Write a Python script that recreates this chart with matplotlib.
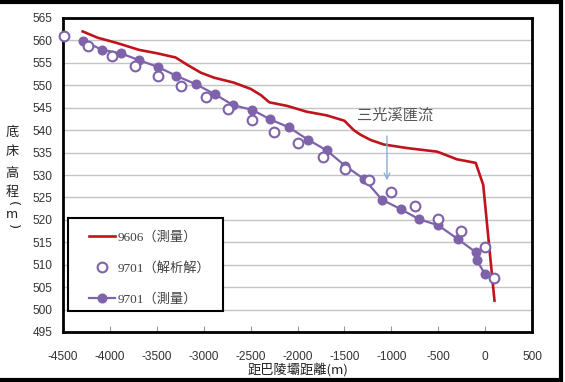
import matplotlib
matplotlib.use("Agg")
import matplotlib.pyplot as plt
from matplotlib.patches import Rectangle
from matplotlib.lines import Line2D

# ---- data ----
red_x = [-4290, -4130, -3920, -3690, -3490, -3300, -3170, -3030, -2890, -2680, -2500, -2390,
         -2300, -2110, -1900, -1690, -1500, -1400, -1330, -1220, -1080, -830, -510, -300,
         -100, -20, 100]
red_y = [562.0, 560.6, 559.4, 557.9, 557.1, 556.2, 554.5, 552.8, 551.7, 550.6, 549.2, 547.8,
         546.2, 545.4, 544.1, 543.3, 542.1, 540.0, 539.0, 537.8, 536.8, 536.0, 535.2, 533.5,
         532.7, 527.8, 502.0]

meas_x = [-4290, -4080, -3880, -3690, -3490, -3290, -3080, -2880, -2690, -2480, -2290, -2090,
          -1890, -1690, -1490, -1290, -1100, -900, -700, -500, -290, -100, -90, 0, 100]
meas_y = [559.9, 557.9, 557.1, 555.6, 554.1, 552.1, 550.2, 548.0, 545.6, 544.5, 542.4, 540.6,
          537.9, 535.5, 532.0, 529.1, 524.5, 522.4, 520.1, 518.8, 515.7, 512.8, 511.0, 507.9, 507.0]

anal_x = [-4490, -4230, -3980, -3730, -3490, -3240, -2980, -2740, -2480, -2250, -2000, -1730,
          -1490, -1240, -1000, -745, -500, -255, 0, 100]
anal_y = [561.0, 558.8, 556.6, 554.4, 552.1, 549.8, 547.4, 544.8, 542.2, 539.6, 537.2, 534.0,
          531.4, 528.8, 526.2, 523.0, 520.3, 517.5, 514.0, 507.0]

series_labels = ["9606（測量）", "9701（解析解）", "9701（測量）"]
x_ticks = list(range(-4500, 501, 500))
y_ticks = list(range(495, 566, 5))
annot_text = "三光溪匯流"
annot_x = -1046
annot_y_from, annot_y_to = 539.3, 528.2
xlabel = "距巴陵壩距離(m)"
ylabel_chars = ["底", "床", "高", "程"]
ylabel_unit = ["(", "m", ")"]

W, H = 565, 382
fig = plt.figure(figsize=(W / 100, H / 100), dpi=100)
cjk = ["Noto Sans CJK TC", "DejaVu Sans"]
serif_cjk = ["Liberation Serif", "Noto Sans CJK TC", "DejaVu Sans"]

L, R, T, B = 63, 532, 18, 332
ax = fig.add_axes([L / W, 1 - B / H, (R - L) / W, (B - T) / H])

red = "#c0141c"
purple = "#7e63aa"

ax.plot(red_x, red_y, color=red, lw=1.9, zorder=3)
ax.plot(meas_x, meas_y, color=purple, lw=1.6, marker="o", ms=6.2,
        mfc=purple, mec=purple, zorder=4)
ax.plot(anal_x, anal_y, ls="none", marker="o", ms=7, mfc="white", mec=purple,
        mew=1.5, zorder=5, clip_on=False)

ax.set_xlim(-4500, 500)
ax.set_ylim(495, 565)
ax.set_xticks(x_ticks)
ax.set_yticks(y_ticks)
ax.set_xticklabels([str(v) for v in x_ticks], fontfamily="Liberation Sans", fontsize=8.6, color="#333333")
ax.set_yticklabels([str(v) for v in y_ticks], fontfamily="Liberation Sans", fontsize=8.6, color="#333333")
ax.tick_params(axis="x", direction="in", length=4, color="#999999", pad=14)
ax.tick_params(axis="y", length=0, pad=7.5)
ax.grid(axis="y", color="#c4c4c4", lw=1)
ax.set_axisbelow(True)
for s in ax.spines.values():
    s.set_linewidth(2)
    s.set_color("black")

# annotation
ax.annotate("", xy=(annot_x, annot_y_to), xytext=(annot_x, annot_y_from),
            arrowprops=dict(arrowstyle="->", color="#8aaed6", lw=1))
ax.text(-957, 543.3, annot_text, fontfamily=cjk, fontsize=11, color="#555555",
        ha="center", va="center")

# legend frame (drawn separately for exact size)
ax.add_patch(Rectangle((68 / W, 1 - 311 / H), (223 - 68) / W, (311 - 218) / H,
                       transform=fig.transFigure, facecolor="white", edgecolor="black",
                       lw=1.5, zorder=6, clip_on=False))
handles = [
    Line2D([], [], color=red, lw=1.9),
    Line2D([], [], ls="none", marker="o", ms=7, mfc="white", mec=purple, mew=1.5),
    Line2D([], [], color=purple, lw=1.6, marker="o", ms=6.2, mfc=purple, mec=purple),
]
leg = ax.legend(handles, series_labels, loc="upper left",
                bbox_to_anchor=((89 - L) / (R - L), (B - 231) / (B - T)),
                prop={"family": serif_cjk, "size": 9.5}, labelspacing=1.4,
                handlelength=2.0, handletextpad=0.15, borderpad=0,
                borderaxespad=0, frameon=False, labelcolor="#404040")
leg.set_zorder(7)

# axis labels
fig.text(298 / W, 1 - 370 / H, xlabel, fontfamily=cjk, fontsize=9.5, color="#222222",
         ha="center", va="center")
ys = [132, 152, 173, 193]
for ch, yy in zip(ylabel_chars, ys):
    fig.text(12 / W, 1 - yy / H, ch, fontfamily=cjk, fontsize=9.5, color="#222222",
             ha="center", va="center")
unit_ys = [204, 215, 227]
unit_rot = [-90, 0, -90]
unit_sz = [9.5, 9, 9.5]
for ch, yy, rot, sz in zip(ylabel_unit, unit_ys, unit_rot, unit_sz):
    fig.text(12 / W, 1 - yy / H, ch, fontfamily="DejaVu Sans", fontsize=sz, color="#222222",
             ha="center", va="center", rotation=rot)

# outer frame
fig.add_artist(Rectangle((-5 / W, 2 / H), (561 + 5) / W, (380 - 2) / H,
                         transform=fig.transFigure, fill=False, lw=3, edgecolor="black"))

fig.savefig("out.png", dpi=100)
